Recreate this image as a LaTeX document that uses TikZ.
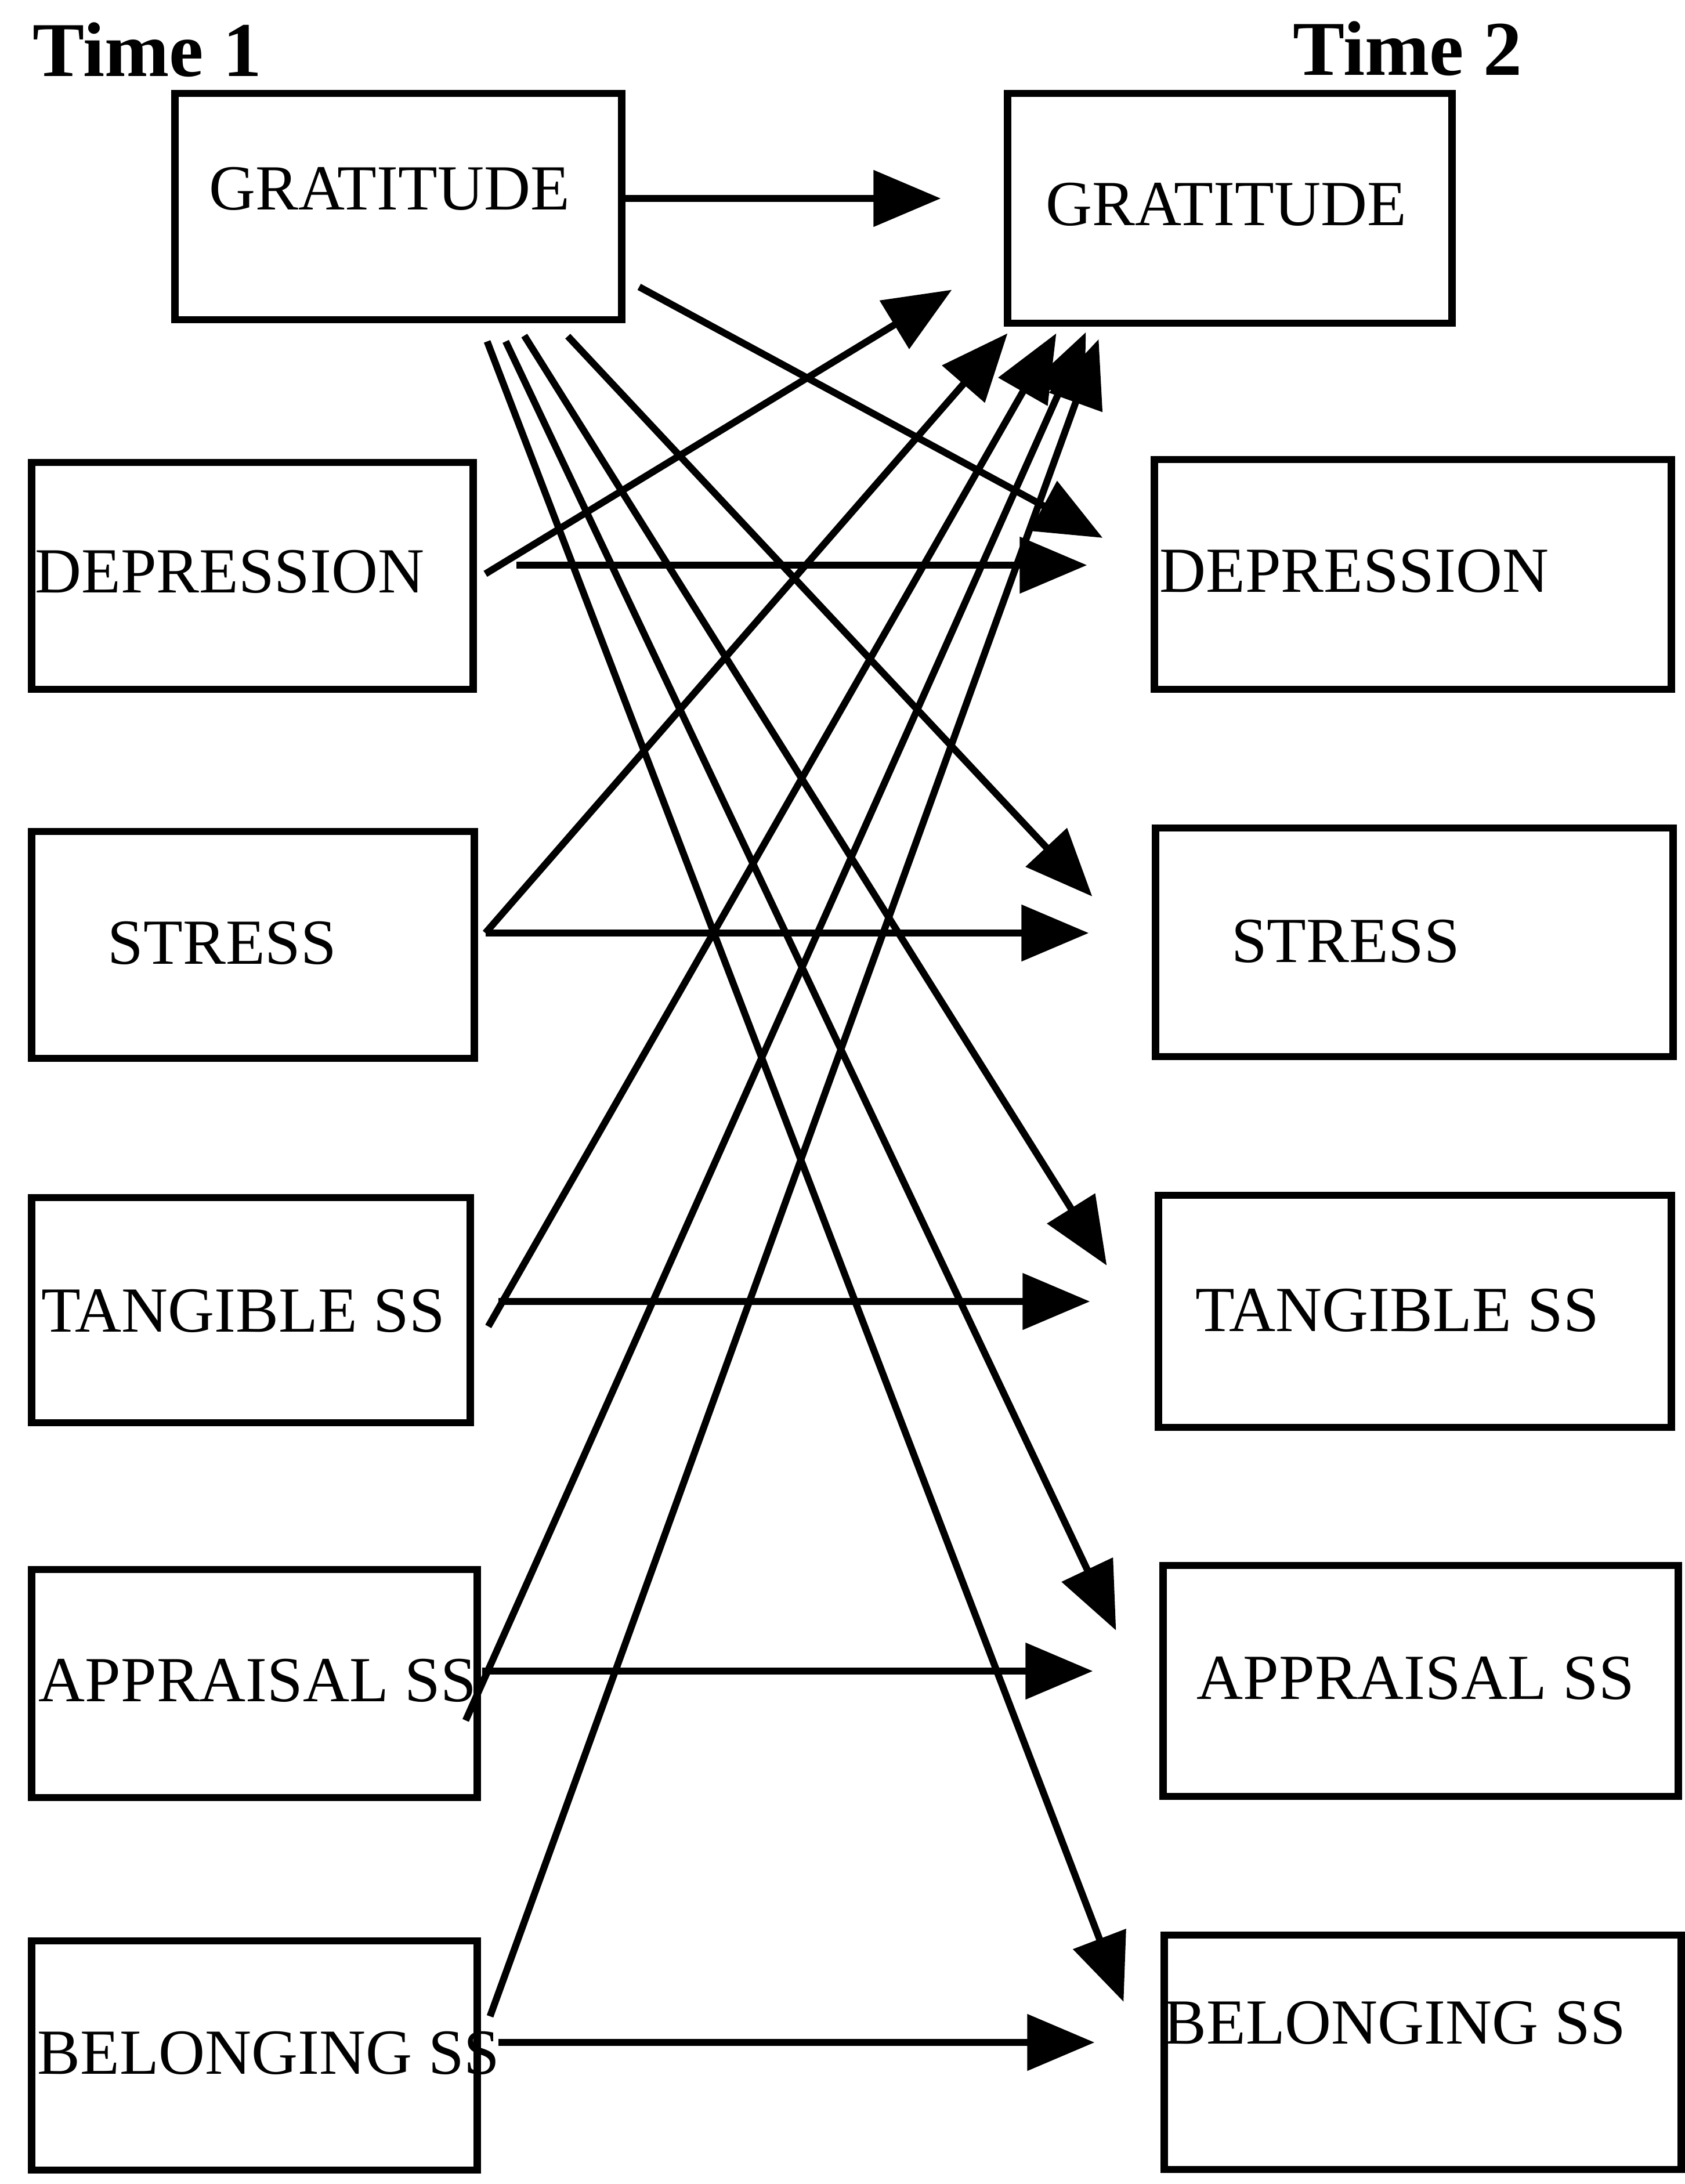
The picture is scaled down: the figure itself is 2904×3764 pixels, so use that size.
\documentclass[tikz,border=0pt]{standalone}
\usepackage{fontspec}
\setmainfont{Liberation Serif}
\usetikzlibrary{arrows.meta}

\begin{document}
\begin{tikzpicture}[
  x=0.01cm, y=-0.01cm,
  every node/.style={inner sep=0pt},
  construct/.style 2 args={rectangle, draw, line width=3.6pt,
                           minimum width=#1cm, minimum height=#2cm},
  conlabel/.style={font=\fontsize{31.5}{36}\selectfont},
  timelabel/.style={font=\fontsize{38}{44}\selectfont\bfseries, anchor=base west},
  arr/.style={-{Triangle[length=1.16cm, width=0.95cm]}, line width=3.4pt},
]
\useasboundingbox (0,0) rectangle (2904,3764);

% time headings
\node[timelabel] (t1) at (56,132) {Time 1};
\node[timelabel] (t2) at (2228,130) {Time 2};

% Time 1 column
\node[construct={7.69}{3.90}] (lgrat) at (686.5,356) {};
\node[construct={7.60}{3.91}] (ldep) at (435,992.5) {};
\node[construct={7.62}{3.91}] (lstress) at (436,1628.5) {};
\node[construct={7.55}{3.88}] (ltang) at (432.5,2258) {};
\node[construct={7.67}{3.93}] (lappr) at (438.5,2901.5) {};
\node[construct={7.67}{3.95}] (lbelong) at (438.5,3542.5) {};

% Time 2 column
\node[construct={7.65}{3.96}] (rgrat) at (2119.5,359) {};
\node[construct={8.90}{3.96}] (rdep) at (2435,990) {};
\node[construct={8.91}{3.94}] (rstress) at (2437.5,1624) {};
\node[construct={8.83}{4.00}] (rtang) at (2438.5,2260) {};
\node[construct={8.87}{3.98}] (rappr) at (2448.5,2897) {};
\node[construct={8.90}{4.04}] (rbelong) at (2452,3537) {};

% box texts
\node[conlabel] (lgratT) at (671,325) {GRATITUDE};
\node[conlabel] (ldepT) at (396,985) {DEPRESSION};
\node[conlabel] (lstressT) at (383,1625) {STRESS};
\node[conlabel] (ltangT) at (419,2259) {TANGIBLE SS};
\node[conlabel] (lapprT) at (444,2896) {APPRAISAL SS};
\node[conlabel] (lbelongT) at (463,3538) {BELONGING SS};
\node[conlabel] (rgratT) at (2113,352) {GRATITUDE};
\node[conlabel] (rdepT) at (2334,984) {DEPRESSION};
\node[conlabel] (rstressT) at (2319,1622) {STRESS};
\node[conlabel] (rtangT) at (2408,2258) {TANGIBLE SS};
\node[conlabel] (rapprT) at (2440,2892) {APPRAISAL SS};
\node[conlabel] (rbelongT) at (2404,3486) {BELONGING SS};

% stability paths
\draw[arr] ([shift={(0,-14)}]lgrat.east) -- ([shift={(-109,-17)}]rgrat.west);
\draw[arr] ([shift={(68,-18.5)}]ldep.east) -- ([shift={(-110,-16)}]rdep.west);
\draw[arr] ([shift={(13,-20.5)}]lstress.east) -- ([shift={(-109,-16)}]rstress.west);
\draw[arr] ([shift={(42,-15)}]ltang.east) -- ([shift={(-112,-17)}]rtang.west);
\draw[arr] ([shift={(2,-21.5)}]lappr.east) -- ([shift={(-115,-17)}]rappr.west);
\draw[arr] ([shift={(30,-22.5)}]lbelong.east) -- ([shift={(-114,-17)}]rbelong.west);

% gratitude -> time 2 outcomes
\draw[arr] ([shift={(24,-63)}]lgrat.south east) -- ([shift={(-83,-63)}]rdep.west);
\draw[arr] ([shift={(-99,22)}]lgrat.south east) -- ([shift={(-103,-79)}]rstress.west);
\draw[arr] ([shift={(-174,21)}]lgrat.south east) -- ([shift={(-83,-79)}]rtang.west);
\draw[arr] ([shift={(-206,31)}]lgrat.south east) -- ([shift={(-75,-87)}]rappr.west);
\draw[arr] ([shift={(-238,31)}]lgrat.south east) -- ([shift={(-64,-87)}]rbelong.west);

% time 1 predictors -> gratitude
\draw[arr] ([shift={(15,-3.5)}]ldep.east) -- ([shift={(-90,-64)}]rgrat.south west);
\draw[arr] ([shift={(13,-20.5)}]lstress.east) -- ([shift={(6,11)}]rgrat.south west);
\draw[arr] ([shift={(25,28)}]ltang.east) -- ([shift={(90,11)}]rgrat.south west);
\draw[arr] ([shift={(-26,63.5)}]lappr.east) -- ([shift={(141,9)}]rgrat.south west);
\draw[arr] ([shift={(16,-67.5)}]lbelong.east) -- ([shift={(163,21)}]rgrat.south west);

\end{tikzpicture}
\end{document}
